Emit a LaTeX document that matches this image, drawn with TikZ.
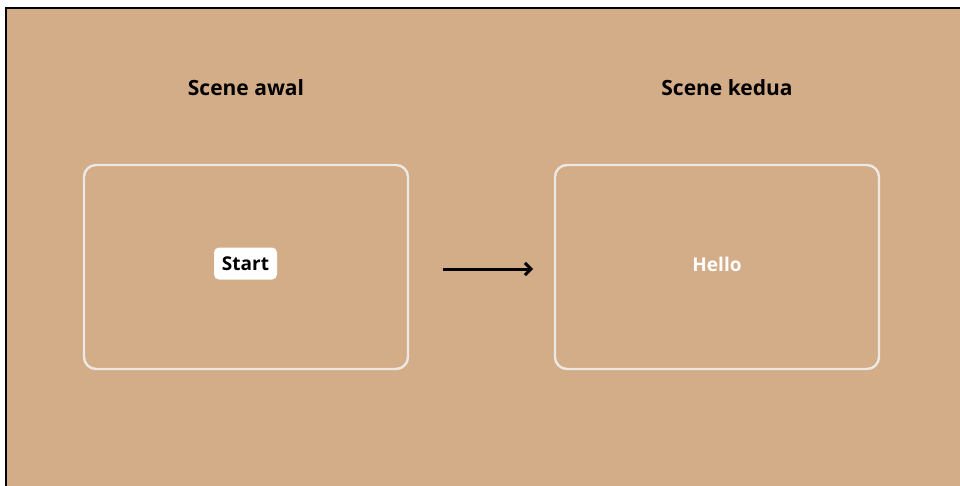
\documentclass[tikz,border=0pt]{standalone}
\usepackage{fontspec}
\setmainfont{Open Sans}
\usetikzlibrary{arrows.meta}
\definecolor{sand}{HTML}{D3AC88}
\definecolor{framegray}{HTML}{ECE8E4}
\begin{document}
\begin{tikzpicture}[x=1pt,y=-1pt,
  scenebox/.style={draw=framegray, line width=2.4pt, rounded corners=12pt},
  title/.style={font=\bfseries\fontsize{21}{24}\selectfont, text=black},
  btn/.style={fill=white, rounded corners=5pt, font=\bfseries\fontsize{19}{22}\selectfont,
    text=black, minimum width=63pt, minimum height=32pt, inner sep=0pt},
  label/.style={font=\bfseries\fontsize{19}{22}\selectfont, text=white},
  flow/.style={line width=3pt, -{Straight Barb[length=6pt,width=12pt,line width=3pt]}}]
  \useasboundingbox (0,0) rectangle (960,485);
  \fill[white] (0,0) rectangle (960,485);
  % stage background with its frame
  \fill[sand] (6,8) rectangle (962,487);
  \draw[black, line width=2pt] (6,487) -- (6,8) -- (962,8);
  % headings
  \node[title] (t1) at (246,88) {Scene awal};
  \node[title] (t2) at (727,88) {Scene kedua};
  % scenes
  \draw[scenebox] (84,165) rectangle (408,369);
  \draw[scenebox] (555,165) rectangle (879,369);
  \node[btn] (start) at (245.5,263.5) {Start};
  \node[label] (hello) at (717,264) {Hello};
  % transition
  \coordinate (a1) at (443,269);
  \coordinate (a2) at (533,269);
  \draw[flow] (a1) -- (a2);
\end{tikzpicture}
\end{document}
